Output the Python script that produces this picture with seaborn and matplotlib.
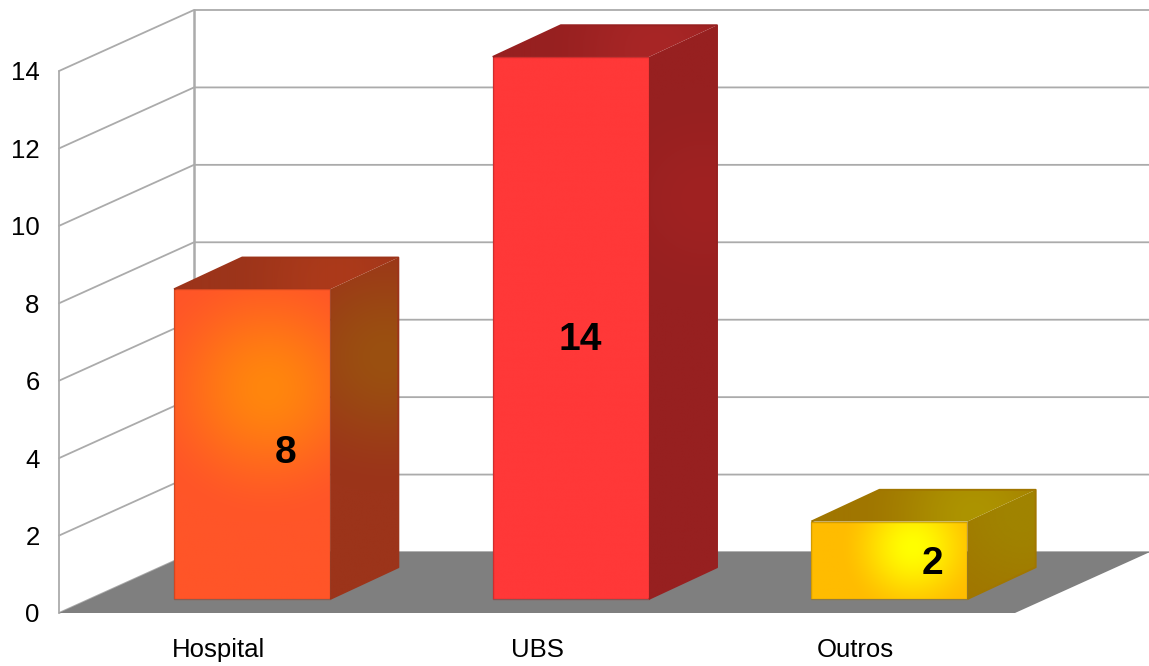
import numpy as np
import pandas as pd
import matplotlib.pyplot as plt
from matplotlib.colors import to_rgb
from matplotlib.patches import Polygon
import seaborn as sns

categories = ["Hospital", "UBS", "Outros"]
values = [8, 14, 2]
y_ticks = [0, 2, 4, 6, 8, 10, 12, 14]

bar_colors = ["#FF5528", "#FF3838", "#FFBC00"]
glow_colors = ["#FF860D", "#FF3838", "#FFFF00"]
side_colors = ["#9C341A", "#972020", "#A07600"]
side_glow = ["#9A5010", "#A02222", "#A08400"]
roof_glow = ["#AC3A1A", "#A82626", "#AD9400"]
label_offsets = [(67, 5), (43, 2), (77, 10)]  # px from bar centre
glow_pos = [(0.60, 0.68), (0.5, 0.5), (0.65, 0.67)]
glow_radius = [135, 1, 75]

GRID = "#ABABAB"
FLOOR = "#7F7F7F"

# oblique offset of the back wall, in data units
DEPTH_X = 135 / 318.67
DEPTH_Y = 61 / 38.71
BAR_START_X = 0.25
BAR_START_Y = 0.23
BAR_DEPTH_X = 0.505
BAR_DEPTH_Y = 0.52
BAR_WIDTH = 0.49


def shade(ax, corners, base, glow, centre, radius, zorder):
    # radial gradient clipped to a polygon
    xs, ys = zip(*corners)
    gx, gy = np.meshgrid(np.linspace(min(xs), max(xs), 160),
                         np.linspace(min(ys), max(ys), 160))
    pts = ax.transData.transform(np.column_stack([gx.ravel(), gy.ravel()]))
    c = ax.transData.transform(centre)
    d = np.hypot(pts[:, 0] - c[0], pts[:, 1] - c[1]).reshape(gx.shape)
    t = np.clip(1 - d / radius, 0, 1)[..., None]
    t = t * t * (3 - 2 * t)
    rgb = np.array(to_rgb(base)) + (np.array(to_rgb(glow)) - np.array(to_rgb(base))) * t
    im = ax.imshow(rgb, extent=(min(xs), max(xs), min(ys), max(ys)), origin="lower",
                   aspect="auto", zorder=zorder, interpolation="bilinear")
    im.set_clip_box(ax.figure.bbox)
    im.set_clip_path(Polygon(corners, transform=ax.transData))


def main():
    sns.set_theme(style="white")
    plt.rcParams["font.family"] = ["Liberation Sans", "DejaVu Sans"]

    fig = plt.figure(figsize=(11.49, 6.66), dpi=100)
    ax = fig.add_axes([59 / 1149, (666 - 613) / 666, 956 / 1149, 542 / 666])
    ax.set_facecolor("none")

    data = pd.DataFrame({"cat": categories, "val": values})
    sns.barplot(data=data, x="cat", y="val", hue="cat", palette=bar_colors,
                width=BAR_WIDTH, legend=False, ax=ax, zorder=3)
    bars = sorted(ax.patches, key=lambda p: p.get_x())

    x0, x1 = -0.5, len(categories) - 0.5
    ax.set_xlim(x0, x1)
    ax.set_ylim(0, max(y_ticks))
    top = max(y_ticks)

    # walls
    for v in y_ticks:
        ax.plot([x0, x0 + DEPTH_X, x1 + DEPTH_X], [v, v + DEPTH_Y, v + DEPTH_Y],
                color=GRID, lw=1.3, clip_on=False, zorder=1)
    ax.plot([x0, x0], [0, top], color=GRID, lw=1.3, clip_on=False, zorder=1)
    ax.plot([x0 + DEPTH_X] * 2, [DEPTH_Y, top + DEPTH_Y], color=GRID, lw=1.8,
            clip_on=False, zorder=1)

    # floor
    ax.add_patch(Polygon([(x0, 0), (x0 + DEPTH_X, DEPTH_Y), (x1 + DEPTH_X, DEPTH_Y), (x1, 0)],
                         facecolor=FLOOR, edgecolor="none", clip_on=False, zorder=2))

    sx = DEPTH_X * BAR_START_X
    sy = DEPTH_Y * BAR_START_Y
    dx = DEPTH_X * BAR_DEPTH_X
    dy = DEPTH_Y * BAR_DEPTH_Y

    for i, p in enumerate(bars):
        l = p.get_x() + sx
        r = l + p.get_width()
        b = sy
        t = sy + p.get_height()
        p.set_x(l)
        p.set_y(b)
        p.set_clip_on(False)
        p.set_edgecolor("none")

        front = [(l, b), (r, b), (r, t), (l, t)]
        side = [(r, b), (r + dx, b + dy), (r + dx, t + dy), (r, t)]
        roof = [(l, t), (r, t), (r + dx, t + dy), (l + dx, t + dy)]

        fx, fy = glow_pos[i]
        centre = (l + fx * (r - l), b + fy * (t - b))
        shade(ax, front, bar_colors[i], glow_colors[i], centre, glow_radius[i], 4)
        side_c = (r + dx * 0.8, b + 0.68 * (t - b) + dy)
        shade(ax, side, side_colors[i], side_glow[i], side_c, max(glow_radius[i], 110), 4)
        roof_c = (r + dx * 0.1, t + dy * 0.2)
        shade(ax, roof, side_colors[i], roof_glow[i], roof_c, 120, 4)

        # rounded outer corners, darker edge round the front
        outer = [side[0], side[1], side[2], roof[3], roof[0]]
        ax.add_patch(Polygon(outer, closed=False, fill=False, edgecolor=side_colors[i], lw=1.4,
                             joinstyle="round", clip_on=False, zorder=5))
        ax.add_patch(Polygon(front, closed=True, fill=False, edgecolor=side_colors[i], lw=1.0,
                             alpha=0.45, joinstyle="round", clip_on=False, zorder=6))

        off = label_offsets[i]
        ax.annotate(str(values[i]), xy=((l + r) / 2 - sx, values[i] / 2),
                    xytext=(off[0] * 0.72, off[1] * 0.72), textcoords="offset points",
                    ha="center", va="center", fontsize=28, fontweight="bold",
                    color="black", zorder=8, annotation_clip=False)

    ax.set_xlim(x0, x1)
    ax.set_ylim(0, top)
    ax.set_yticks(y_ticks)
    ax.set_xlabel("")
    ax.set_ylabel("")
    ax.tick_params(axis="y", length=0, pad=14, labelsize=18.5, labelcolor="black")
    ax.tick_params(axis="x", length=0, pad=18, labelsize=18.5, labelcolor="black")
    sns.despine(ax=ax, left=True, bottom=True)

    fig.savefig("out.png", dpi=100, facecolor="white")


if __name__ == "__main__":
    main()
